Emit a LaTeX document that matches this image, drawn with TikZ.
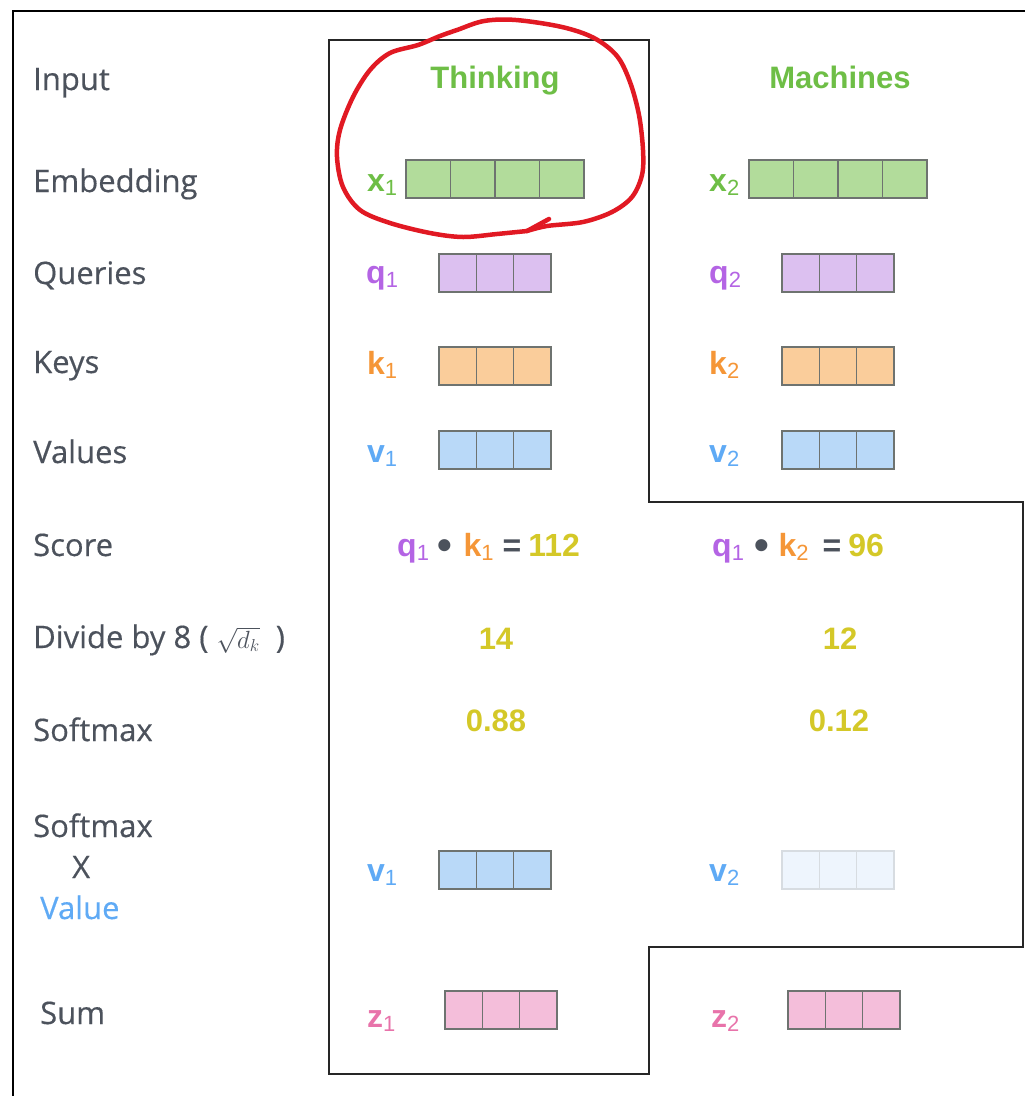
\documentclass[tikz,border=0pt]{standalone}
\usepackage{fontspec}
\setmainfont{Open Sans}
\newfontfamily\opens{Open Sans}[FakeBold=0.4]
\newfontfamily\arial{Liberation Sans}
\usepackage{tikz}
\usetikzlibrary{calc,positioning}
\definecolor{grigiotesto}{RGB}{76,82,92}
\definecolor{verde}{RGB}{110,190,70}
\definecolor{viola}{RGB}{180,100,228}
\definecolor{arancio}{RGB}{245,150,55}
\definecolor{azzurro}{RGB}{95,170,245}
\definecolor{rosa}{RGB}{232,115,170}
\definecolor{giallo}{RGB}{212,200,40}
\definecolor{verdechiaro}{RGB}{178,220,155}
\definecolor{lilla}{RGB}{220,192,240}
\definecolor{pesca}{RGB}{250,205,155}
\definecolor{celeste}{RGB}{185,217,248}
\definecolor{celestino}{RGB}{238,245,253}
\definecolor{rosachiaro}{RGB}{244,190,218}
\definecolor{bordo}{RGB}{110,115,112}
\definecolor{bordochiaro}{RGB}{215,220,225}
\definecolor{pennarello}{RGB}{225,25,35}

% pedice dei vettori
\newcommand{\pedice}[1]{\raisebox{-0.14em}{\fontsize{22}{22}\selectfont\mdseries #1}}
\newcommand{\nomev}[3]{{\color{#1}#2\pedice{#3}}}
% punto del prodotto scalare
\newcommand{\punto}{\raisebox{-3pt}{\fontsize{42}{42}\selectfont•}}
% vettore a celle: x, y (angolo in alto a sinistra), celle, larghezza, riempimento, bordo
\newcommand{\vettore}[6]{%
  \foreach \cl in {1,...,#3}
    \draw[line width=1.2pt, draw=#6, fill=#5] ({#1+(\cl-1)*#4},#2) rectangle ++(#4,38);}

\begin{document}
\begin{tikzpicture}[x=1pt,y=-1pt,
    etichetta/.style={anchor=base west, inner sep=0pt, text=grigiotesto, font=\opens\fontsize{31}{36}\selectfont},
    parola/.style={anchor=base, inner sep=0pt, text=verde, font=\arial\bfseries\fontsize{31}{36}\selectfont},
    numero/.style={anchor=base, inner sep=0pt, text=giallo, font=\arial\bfseries\fontsize{31}{36}\selectfont},
    nomevett/.style={anchor=base west, inner sep=0pt, font=\arial\bfseries\fontsize{32}{36}\selectfont}]
    \useasboundingbox (0,0) rectangle (1025,1096);

    % cornice esterna
    \draw[line width=2.2pt] (13,1096) -- (13,11) -- (1025,11);

    % contorno a gradini
    \draw[line width=1.4pt, color=black!85]
        (329,40) -- (649,40) -- (649,502) -- (1023,502) -- (1023,947)
        -- (649,947) -- (649,1074) -- (329,1074) -- cycle;

    % etichette a sinistra
    \node[etichetta] (lInput) at (33,90) {Input};
    \node[etichetta] (lEmb) at (33,192) {Embedding};
    \node[etichetta] (lQuery) at (33,284) {Queries};
    \node[etichetta] (lKey) at (33,373) {Keys};
    \node[etichetta] (lVal) at (33,463) {Values};
    \node[etichetta] (lScore) at (33,556) {Score};
    \node[etichetta] (lDiv) at (33,648) {Divide by 8 ( {\fontsize{27}{27}\selectfont$\sqrt{d_k}$}\hspace{16pt})};
    \node[etichetta] (lSoft) at (33,741) {Softmax};
    \node[etichetta] (lSoftA) at (33,837) {Softmax};
    \node[etichetta] (lPer) at (72,878) {X};
    \node[etichetta, text=azzurro] (lValue) at (40,919) {Value};
    \node[etichetta] (lSum) at (40,1024) {Sum};

    % parole in ingresso
    \node[parola] (thinking) at (495,88) {Thinking};
    \node[parola] (machines) at (840,88) {Machines};

    % vettori
    \vettore{406}{160}{4}{44.5}{verdechiaro}{bordo}
    \vettore{749}{160}{4}{44.5}{verdechiaro}{bordo}
    \vettore{439}{254}{3}{37.33}{lilla}{bordo}
    \vettore{782}{254}{3}{37.33}{lilla}{bordo}
    \vettore{439}{347}{3}{37.33}{pesca}{bordo}
    \vettore{782}{347}{3}{37.33}{pesca}{bordo}
    \vettore{439}{431}{3}{37.33}{celeste}{bordo}
    \vettore{782}{431}{3}{37.33}{celeste}{bordo}
    \vettore{439}{851}{3}{37.33}{celeste}{bordo}
    \vettore{782}{851}{3}{37.33}{celestino}{bordochiaro}
    \vettore{445}{991}{3}{37.33}{rosachiaro}{bordo}
    \vettore{788}{991}{3}{37.33}{rosachiaro}{bordo}

    % nomi dei vettori
    \node[nomevett] (x1) at (367,191) {\nomev{verde}{x}{1}};
    \node[nomevett] (x2) at (709,191) {\nomev{verde}{x}{2}};
    \node[nomevett] (q1) at (366,283) {\nomev{viola}{q}{1}};
    \node[nomevett] (q2) at (709,283) {\nomev{viola}{q}{2}};
    \node[nomevett] (k1) at (367,374) {\nomev{arancio}{k}{1}};
    \node[nomevett] (k2) at (709,374) {\nomev{arancio}{k}{2}};
    \node[nomevett] (v1) at (367,462) {\nomev{azzurro}{v}{1}};
    \node[nomevett] (v2) at (709,462) {\nomev{azzurro}{v}{2}};
    \node[nomevett] (v1s) at (367,881) {\nomev{azzurro}{v}{1}};
    \node[nomevett] (v2s) at (709,881) {\nomev{azzurro}{v}{2}};
    \node[nomevett] (z1) at (367,1027) {\nomev{rosa}{z}{1}};
    \node[nomevett] (z2) at (711,1027) {\nomev{rosa}{z}{2}};

    % punteggi
    \node[nomevett, text=grigiotesto] (score1) at (397,556)
        {\nomev{viola}{q}{1}\hspace{9pt}\punto\hspace{11pt}\nomev{arancio}{k}{1}\hspace{9pt}=\hspace{7pt}{\color{giallo}112}};
    \node[nomevett, text=grigiotesto] (score2) at (712,556)
        {\nomev{viola}{q}{1}\hspace{11pt}\punto\hspace{9pt}\nomev{arancio}{k}{2}\hspace{14pt}=\hspace{7pt}{\color{giallo}96}};
    \node[numero] (div1) at (496,649) {14};
    \node[numero] (div2) at (840,649) {12};
    \node[numero] (soft1) at (496,731) {0.88};
    \node[numero] (soft2) at (839,731) {0.12};

    % cerchio a mano
    \draw[pennarello, line width=4.5pt, line cap=round, line join=round]
        plot[smooth, tension=0.55] coordinates {(527,231) (497,234) (463,237) (430,233)
        (390,223) (360,210) (343,187) (337,157) (340,130) (353,97) (370,70) (390,53)
        (418,45) (440,36) (457,30) (484,21) (516,20) (562,27) (594,38) (617,56)
        (630,82) (639,115) (643,150) (642,175) (632,197) (612,212) (583,222) (547,226) (527,231)};
    \draw[pennarello, line width=4.5pt, line cap=round] (527,231) -- (549,219);
\end{tikzpicture}
\end{document}
